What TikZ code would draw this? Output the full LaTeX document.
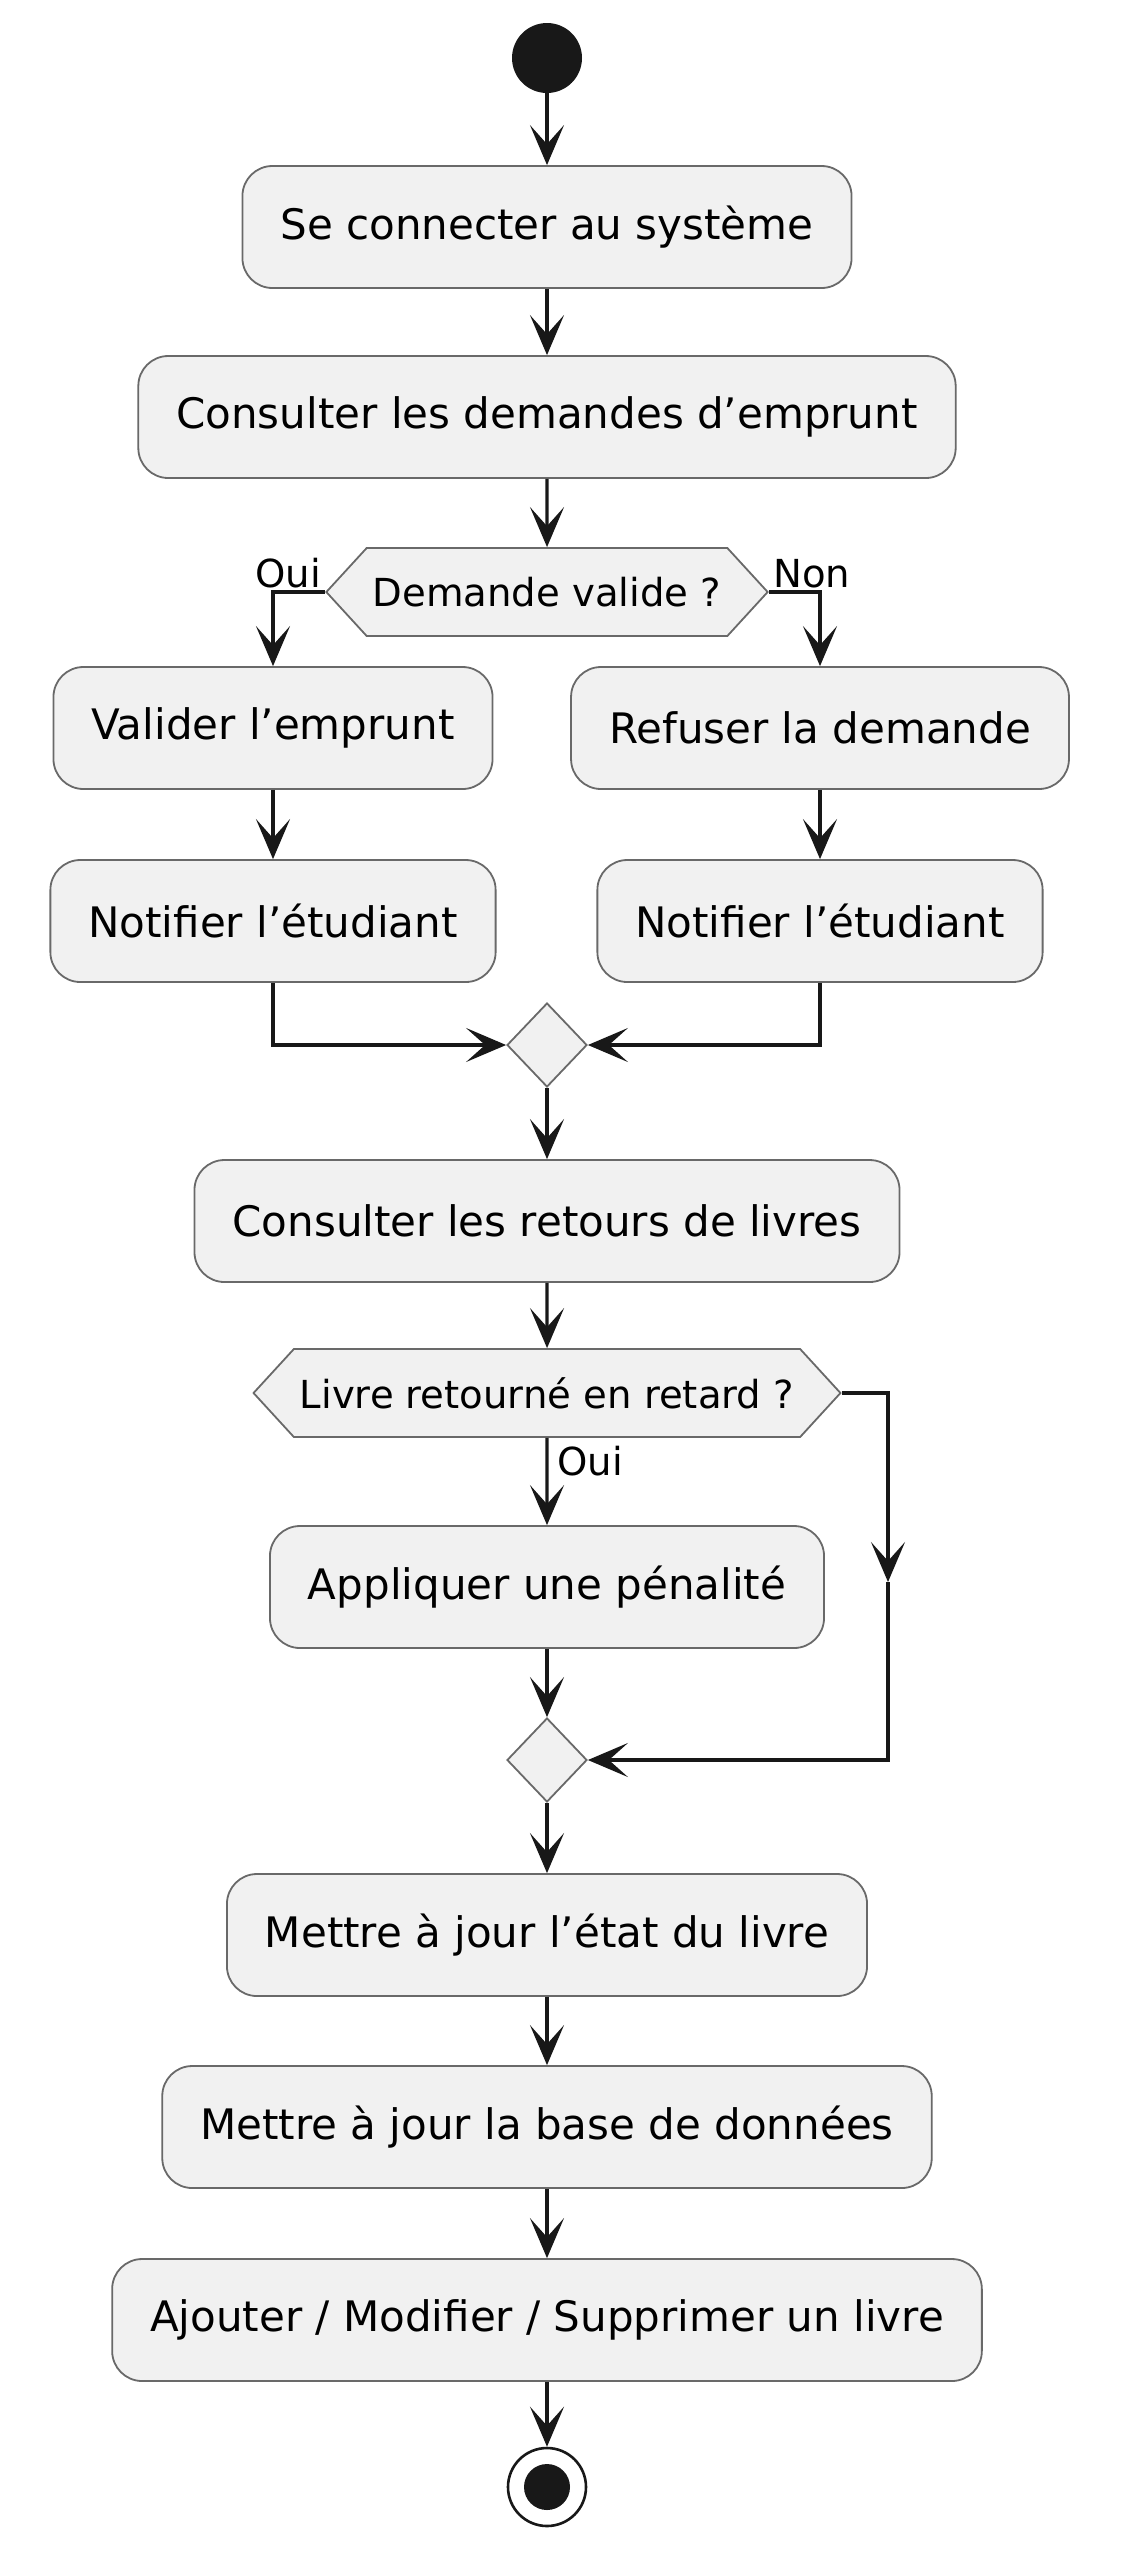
\documentclass[tikz,border=0pt]{standalone}
\usepackage{fontspec}
\setmainfont{DejaVu Sans}
\usetikzlibrary{shapes.geometric,shapes.symbols,arrows.meta}
\definecolor{boxfill}{HTML}{F1F1F1}
\definecolor{ink}{HTML}{181818}

\begin{document}
\begin{tikzpicture}[x=0.5pt,y=-0.5pt,
    activity/.style = {draw=ink!65, line width=0.9pt, fill=boxfill, rounded corners=15pt,
                       minimum height=61pt, inner xsep=19pt, font=\fontsize{21}{25}\selectfont},
    decision/.style = {signal, signal to=east and west, signal pointer angle=95,
                       draw=ink!65, line width=0.9pt, fill=boxfill, minimum height=44pt,
                       inner xsep=3pt, font=\fontsize{19.3}{23}\selectfont},
    merge/.style = {diamond, draw=ink!65, line width=0.9pt, fill=boxfill,
                    minimum width=40pt, minimum height=42pt, inner sep=0pt},
    branch/.style = {font=\fontsize{19.3}{23}\selectfont, inner sep=2pt},
    arrow/.style = {draw=ink, line width=1.6pt, -{Stealth[length=20pt,width=17pt,inset=9.5pt]}}]

    \useasboundingbox (0,0) rectangle (1135,2560);

    % start and first steps
    \node [circle, fill=ink, minimum size=35pt, inner sep=0pt] (start) at (547,58) {};
    \node [activity] (connect) at (547,227) {Se connecter au système};
    \node [activity] (demandes) at (547,417) {Consulter les demandes d’emprunt};

    % first decision
    \node [decision] (valide) at (547,592) {Demande valide ?};
    \node [activity] (valider) at (273,728) {Valider l’emprunt};
    \node [activity] (refuser) at (820,728) {Refuser la demande};
    \node [activity] (notifyes) at (273,921) {Notifier l’étudiant};
    \node [activity] (notifno) at (820,921) {Notifier l’étudiant};
    \node [merge] (merge1) at (547,1045) {};

    % returns
    \node [activity] (retours) at (547,1221) {Consulter les retours de livres};
    \node [decision] (retard) at (547,1393) {Livre retourné en retard ?};
    \node [activity] (penalite) at (547,1587) {Appliquer une pénalité};
    \node [merge] (merge2) at (547,1760) {};
    \coordinate (skipmid) at (888,1582);

    % last steps
    \node [activity] (etat) at (547,1935) {Mettre à jour l’état du livre};
    \node [activity] (base) at (547,2127) {Mettre à jour la base de données};
    \node [activity] (livre) at (547,2320) {Ajouter / Modifier / Supprimer un livre};
    \node [circle, draw=ink, line width=1.3pt, fill=white, minimum size=39pt, inner sep=0pt] (stop) at (547,2487) {};
    \node [circle, fill=ink, minimum size=23pt, inner sep=0pt] (stopdot) at (stop) {};

    \draw[arrow] (start) -- (connect);
    \draw[arrow] (connect) -- (demandes);
    \draw[arrow] (demandes) -- (valide);
    \draw[arrow] (valide.west) -| (valider.north);
    \draw[arrow] (valide.east) -| (refuser.north);
    \node [branch, above left] at (valide.west) {Oui};
    \node [branch, above right] at (valide.east) {Non};
    \draw[arrow] (valider) -- (notifyes);
    \draw[arrow] (refuser) -- (notifno);
    \draw[arrow] (notifyes.south) |- (merge1.west);
    \draw[arrow] (notifno.south) |- (merge1.east);
    \draw[arrow] (merge1) -- (retours);
    \draw[arrow] (retours) -- (retard);
    \draw[arrow] (retard) -- (penalite);
    \node [branch, below right, xshift=3pt, yshift=-2pt] at (retard.south) {Oui};
    \draw[arrow] (retard.east) -| (skipmid);
    \draw[arrow] (skipmid) |- (merge2.east);
    \draw[arrow] (penalite) -- (merge2);
    \draw[arrow] (merge2) -- (etat);
    \draw[arrow] (etat) -- (base);
    \draw[arrow] (base) -- (livre);
    \draw[arrow] (livre) -- (stop);
\end{tikzpicture}
\end{document}
